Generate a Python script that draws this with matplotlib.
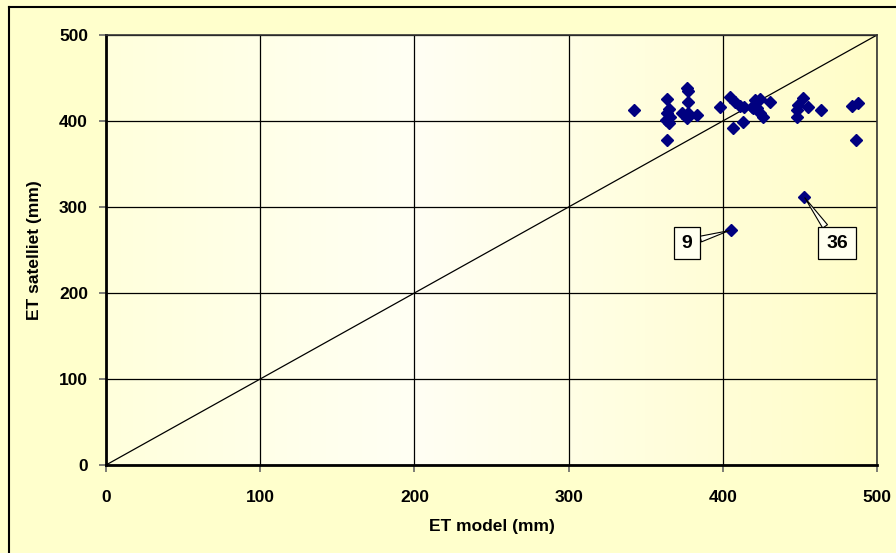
import numpy as np
import matplotlib
matplotlib.use("Agg")
import matplotlib.pyplot as plt
from matplotlib.lines import Line2D
from matplotlib.colors import LinearSegmentedColormap

plt.rcParams['font.family'] = ['Liberation Sans', 'DejaVu Sans']

# Data: ET model (mm) vs ET satelliet (mm)
et_model = [342.7, 363.6, 363.6, 365.0, 364.0, 363.0, 365.0, 366.0,
            376.5, 377.5, 377.5, 373.3, 377.6, 376.5, 383.0,
            398.2, 404.7, 406.8, 413.3, 408.0, 411.0, 414.0, 418.7, 422.0,
            420.9, 424.0, 419.8, 424.0, 426.0, 430.6,
            452.2, 449.0, 448.0, 448.0, 455.0, 464.0,
            483.5, 488.0, 486.4, 405.0, 452.7]
et_sat = [412.8, 425.6, 377.9, 414.0, 409.0, 401.0, 398.0, 405.0,
          438.0, 435.0, 422.0, 409.7, 409.0, 404.0, 407.0,
          416.7, 428.0, 391.5, 399.0, 422.0, 418.0, 416.7, 416.7, 414.7,
          424.0, 426.0, 414.7, 409.0, 405.0, 421.7,
          426.4, 419.0, 413.0, 405.0, 416.0, 413.0,
          418.0, 420.5, 378.0, 273.0, 312.0]

label_names = ["9", "36"]
label_points = [(405.0, 273.0), (452.7, 312.0)]
label_boxes = [(376.8, 258.0), (474.0, 258.0)]

ticks = [0, 100, 200, 300, 400, 500]

fig = plt.figure(figsize=(8.96, 5.53), dpi=100)
fig.patch.set_facecolor('#FFFFCC')

# chart area border (left and top edges visible)
fig.add_artist(Line2D([9/896, 9/896], [0, 1 - 7/553], color='black', lw=1.5,
                      transform=fig.transFigure))
fig.add_artist(Line2D([9/896, 1], [1 - 7/553, 1 - 7/553], color='black', lw=1.5,
                      transform=fig.transFigure))

ax = fig.add_axes([106/896, 1 - 465/553, (877 - 106)/896, (465 - 35)/553])
ax.set_xlim(0, 500)
ax.set_ylim(0, 500)

# plot area gradient background
cmap = LinearSegmentedColormap.from_list('bg', [(0, '#FFFFDC'), (0.4, '#FFFFF4'), (1, '#FFFDC8')])
grad = np.linspace(0, 1, 256).reshape(1, -1)
ax.imshow(grad, extent=[0, 500, 0, 500], aspect='auto', cmap=cmap, zorder=0)

ax.set_xticks(ticks)
ax.set_yticks(ticks)
ax.grid(True, color='black', lw=0.9, zorder=1)
ax.set_axisbelow(True)

ax.plot([0, 500], [0, 500], color='black', lw=0.9, zorder=2)

ax.plot(et_model, et_sat, linestyle='none', marker='D', markersize=6.5,
        color='#000080', markeredgecolor='#000080', zorder=3)

for name, pt, box in zip(label_names, label_points, label_boxes):
    ax.annotate(name, xy=pt, xytext=box, ha='center', va='center',
                fontsize=14, fontweight='bold',
                bbox=dict(boxstyle='square,pad=0.4', fc='#FFFFF0', ec='black', lw=0.9),
                arrowprops=dict(arrowstyle='wedge,tail_width=0.3', fc='#FFFFF0', ec='black',
                                lw=0.8, shrinkA=0, shrinkB=1),
                zorder=4)

for s in ['left', 'bottom']:
    ax.spines[s].set_linewidth(2)
    ax.spines[s].set_color('black')
for s in ['top', 'right']:
    ax.spines[s].set_linewidth(1.2)
    ax.spines[s].set_color('#333333')

ax.tick_params(direction='out', length=5, width=1.2, color='#666666',
               labelsize=12.5)
ax.tick_params(axis='x', pad=13)
ax.tick_params(axis='y', pad=8)
for lab in ax.get_xticklabels() + ax.get_yticklabels():
    lab.set_fontweight('bold')

ax.set_xlabel('ET model (mm)', fontsize=12.5, fontweight='bold', labelpad=10)
ax.set_ylabel('ET satelliet (mm)', fontsize=12.5, fontweight='bold', labelpad=12)

fig.savefig('out.png', dpi=100, facecolor=fig.get_facecolor())
